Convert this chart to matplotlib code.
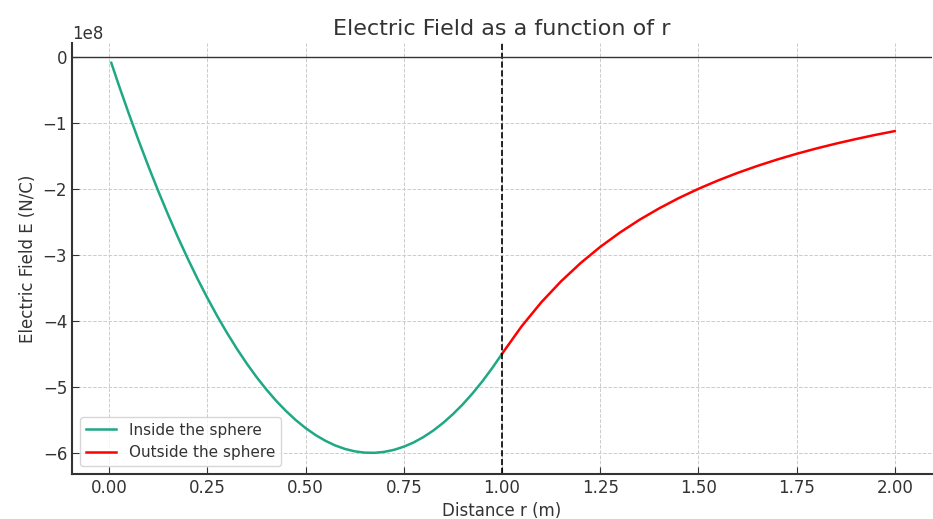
import numpy as np
import matplotlib
matplotlib.use("Agg")
import matplotlib.pyplot as plt

# values (E in units of 1e8 N/C)
r_inside = [0.005, 0.025, 0.05, 0.075, 0.10, 0.125, 0.15, 0.175, 0.20, 0.225, 0.25,
            0.275, 0.30, 0.325, 0.35, 0.375, 0.40, 0.425, 0.45, 0.475, 0.50,
            0.525, 0.55, 0.575, 0.60, 0.625, 0.65, 0.675, 0.70, 0.725, 0.75,
            0.775, 0.80, 0.825, 0.85, 0.875, 0.90, 0.925, 0.95, 0.975, 1.00]
E_inside = [-0.090, -0.442, -0.866, -1.274, -1.665, -2.039, -2.396, -2.737, -3.060, -3.367, -3.656,
            -3.929, -4.185, -4.424, -4.646, -4.852, -5.040, -5.212, -5.366, -5.504, -5.625,
            -5.729, -5.816, -5.887, -5.940, -5.977, -5.996, -5.999, -5.985, -5.954, -5.906,
            -5.842, -5.760, -5.662, -5.546, -5.414, -5.265, -5.099, -4.916, -4.716, -4.500]
r_outside = [1.00, 1.05, 1.10, 1.15, 1.20, 1.25, 1.30, 1.35, 1.40, 1.45, 1.50,
             1.55, 1.60, 1.65, 1.70, 1.75, 1.80, 1.85, 1.90, 1.95, 2.00]
E_outside = [-4.500, -4.082, -3.719, -3.403, -3.125, -2.880, -2.663, -2.469, -2.296, -2.140, -2.000,
             -1.873, -1.758, -1.653, -1.557, -1.469, -1.389, -1.315, -1.247, -1.183, -1.125]
r_boundary = 1.0

fig = plt.figure(figsize=(9.33, 5.19), dpi=100)
ax = fig.add_axes([72/933, 45/519, 860/933, 431/519])

ax.plot(r_inside, np.array(E_inside) * 1e8, color='#1fa884', lw=1.8, label='Inside the sphere')
ax.plot(r_outside, np.array(E_outside) * 1e8, color='#ff0000', lw=1.8, label='Outside the sphere')
ax.axvline(r_boundary, color='black', ls='--', lw=1.2)
ax.axhline(0, color='#333333', lw=1.0)

ax.set_xlim(-0.095, 2.095)
ax.set_ylim(-6.32e8, 0.21e8)
ax.set_xticks([0, 0.25, 0.5, 0.75, 1.0, 1.25, 1.5, 1.75, 2.0])

ax.set_title('Electric Field as a function of r', fontsize=16, color='#333333')
ax.set_xlabel('Distance r (m)', fontsize=12, color='#333333', labelpad=4)
ax.set_ylabel('Electric Field E (N/C)', fontsize=12, color='#333333')
ax.grid(True, ls='--', color='#cccccc', lw=0.7)
ax.tick_params(direction='in', labelsize=12, colors='#333333', length=5)
ax.yaxis.get_offset_text().set_fontsize(12)
for s in ['top', 'right']:
    ax.spines[s].set_visible(False)
for s in ['left', 'bottom']:
    ax.spines[s].set_linewidth(1.5)
    ax.spines[s].set_color('#333333')

ax.legend(loc='lower left', fontsize=11, labelcolor='#333333')

fig.savefig('out.png', dpi=100)
